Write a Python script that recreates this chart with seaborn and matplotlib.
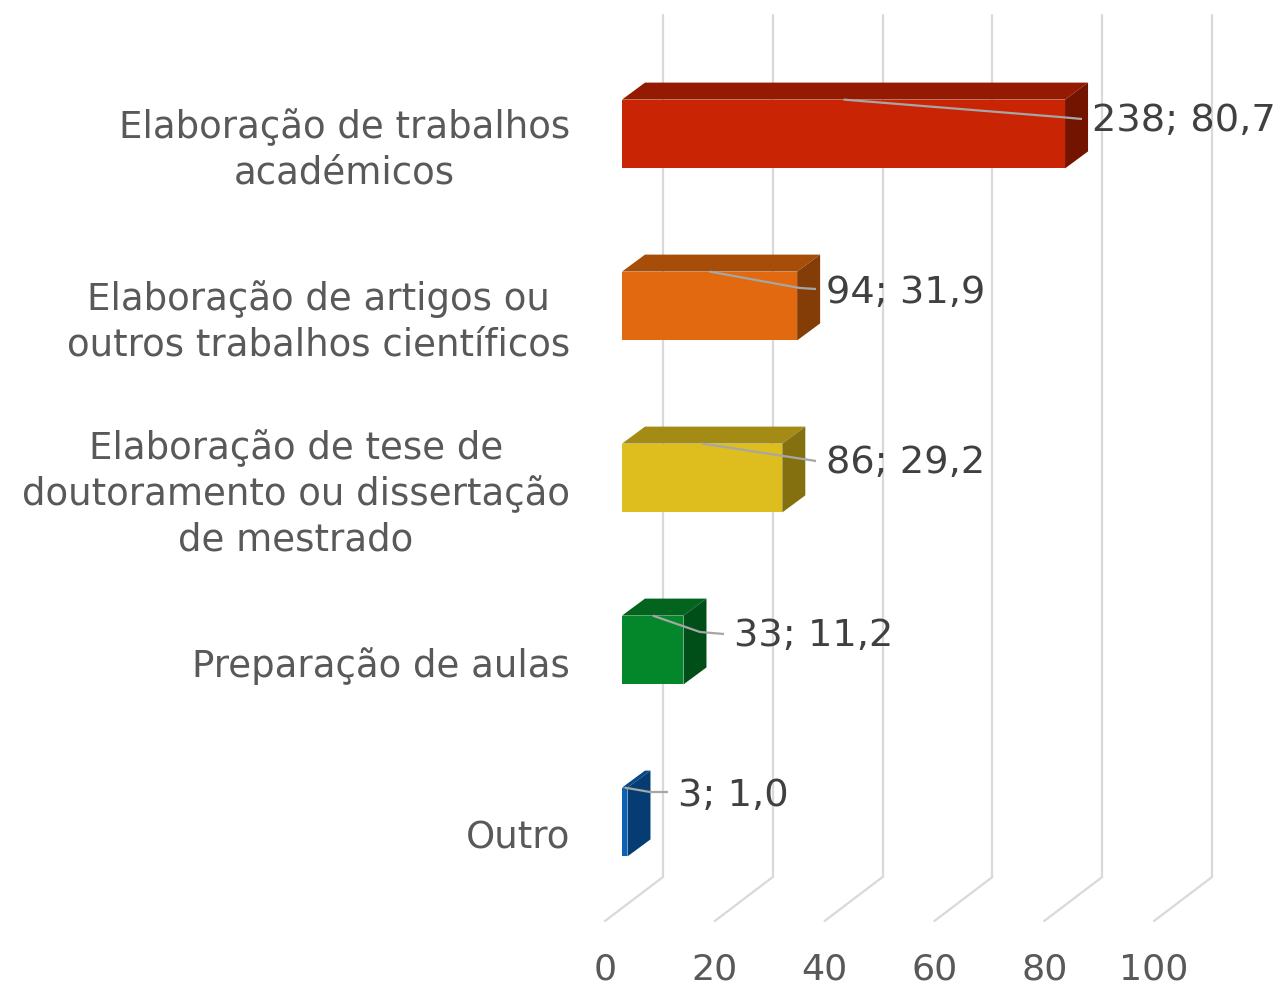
import matplotlib
matplotlib.use("Agg")
import matplotlib.pyplot as plt
import seaborn as sns
import pandas as pd
from matplotlib.patches import Polygon

categories = ["Elaboração de trabalhos\nacadémicos",
              "Elaboração de artigos ou\noutros trabalhos científicos",
              "Elaboração de tese de\ndoutoramento ou dissertação\nde mestrado",
              "Preparação de aulas",
              "Outro"]
counts = [238, 94, 86, 33, 3]
percent = [80.7, 31.9, 29.2, 11.2, 1.0]
data_labels = ["238; 80,7", "94; 31,9", "86; 29,2", "33; 11,2", "3; 1,0"]
front_colors = ["#C92404", "#E2690F", "#DEBD1E", "#03872A", "#0B62B5"]
top_colors = ["#941A02", "#A64D0A", "#A38B15", "#02641E", "#084886"]
side_colors = ["#731401", "#853D08", "#857010", "#014F18", "#053D72"]
x_ticks = [0, 20, 40, 60, 80, 100]

W, H = 1280, 987
sx = 5.49          # px per value unit
x0 = 622           # px of value 0 on the bar front
y0, sy = 135, 172  # px of first category centre, px per category
px = lambda p: (p - x0) / sx
py = lambda p: (p - y0) / sy
ddx, ddy = 23 / sx, 17 / sy

sns.set_theme(style="white")
plt.rcParams['font.family'] = ['DejaVu Sans']
fig = plt.figure(figsize=(W / 100, H / 100), dpi=100, facecolor="white")
ax = fig.add_axes([0, 0, 1, 1])

df = pd.DataFrame({"cat": categories, "pct": percent})
sns.barplot(data=df, y="cat", x="pct", hue="cat", palette=front_colors, legend=False,
            width=0.4, saturation=1, ax=ax, zorder=3, linewidth=0)
ax.set_xlim(px(0), px(W))
ax.set_ylim(py(H), py(0))
ax.axis("off")

# wall gridlines and floor lines
for t in x_ticks:
    wx = t + px(663)
    ax.plot([wx, wx], [py(878), py(16)], color="#D9D9D9", lw=1.6, zorder=1)
    ax.plot([t + px(605), wx], [py(922), py(878)], color="#D9D9D9", lw=1.6, zorder=1)
    ax.text(t + px(605), py(969), str(t), ha="center", va="center",
            fontsize=26.2, color="#595959")

# depth faces of each bar
h = 0.2
for i, v in enumerate(percent):
    ax.add_patch(Polygon([(0, i - h), (v, i - h), (v + ddx, i - h - ddy), (ddx, i - h - ddy)],
                         closed=True, fc=top_colors[i], ec="none", zorder=3))
    ax.add_patch(Polygon([(v, i - h), (v + ddx, i - h - ddy), (v + ddx, i + h - ddy), (v, i + h)],
                         closed=True, fc=side_colors[i], ec="none", zorder=3))

# category labels
label_y = [150, 322, 494, 666, 838]
for c, ly in zip(categories, label_y):
    ax.text(px(570), py(ly), c, ha="right", ma="center", va="center",
            fontsize=26.7, color="#595959", linespacing=1.29)

# data labels with leader lines
label_left = [1092, 826, 826, 734, 678]
label_mid = [121, 293, 463, 636, 796]
leader_bend = [(1060, 118), (800, 289), (790, 458), (700, 633), (650, 793)]
leader_end = [(1082, 120), (816, 290), (816, 462), (724, 635), (668, 793)]
for i, v in enumerate(percent):
    bx, by = leader_bend[i]
    ex, ey = leader_end[i]
    ax.plot([v / 2, px(bx), px(ex)], [i - h, py(by), py(ey)],
            color="#A6A6A6", lw=1.6, zorder=4, solid_capstyle="butt")
    ax.text(px(label_left[i]), py(label_mid[i]), data_labels[i], ha="left", va="center",
            fontsize=27.6, color="#404040", zorder=5)

fig.savefig("out.png", dpi=100)
